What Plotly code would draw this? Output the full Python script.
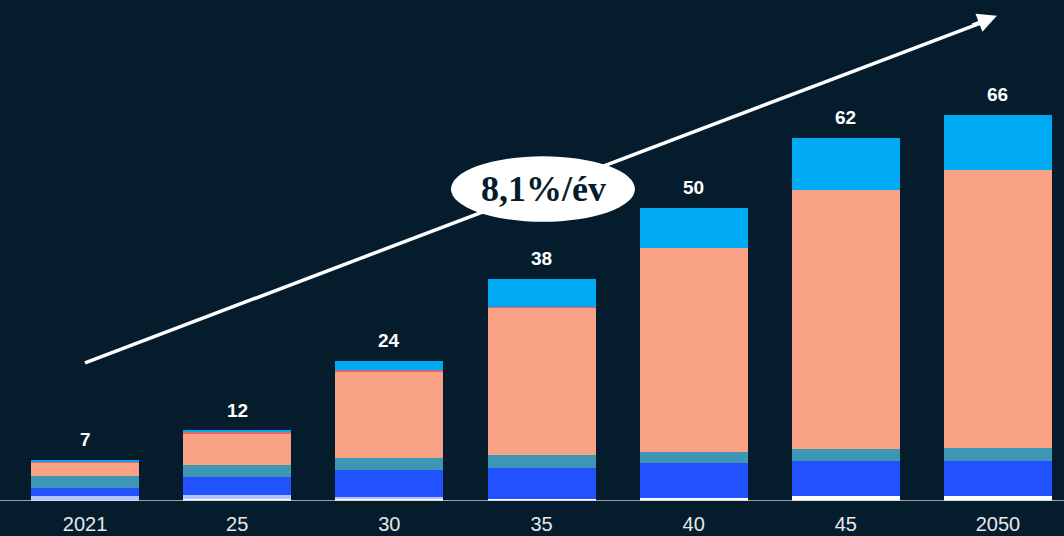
import plotly.graph_objects as go

# Categories and stacked segment values (bottom to top)
years = ["2021", "25", "30", "35", "40", "45", "2050"]
totals = [7, 12, 24, 38, 50, 62, 66]

white_seg = [0.2, 0.3, 0.35, 0.35, 0.5, 0.8, 0.9]
lavender_seg = [0.6, 0.7, 0.35, 0.05, 0.0, 0.0, 0.0]
blue_seg = [1.5, 3.1, 4.6, 5.3, 6.0, 6.0, 6.0]
teal_seg = [1.9, 2.1, 2.05, 2.1, 1.95, 2.15, 2.2]
salmon_seg = [2.3, 5.3, 14.8, 25.3, 34.7, 44.15, 47.5]
red_seg = [0.3, 0.3, 0.3, 0.1, 0.0, 0.0, 0.0]
cyan_seg = [0.2, 0.2, 1.55, 4.8, 6.85, 8.9, 9.4]

growth_label = "8,1%/év"

BG = "#051c2c"
series = [
    ("white", white_seg, "#ffffff"),
    ("lavender", lavender_seg, "#b3c3ff"),
    ("blue", blue_seg, "#2251ff"),
    ("teal", teal_seg, "#3c96b4"),
    ("salmon", salmon_seg, "#f8a185"),
    ("red", red_seg, "#e0656e"),
    ("cyan", cyan_seg, "#00a9f4"),
]

x_idx = list(range(len(years)))

fig = go.Figure()
for name, vals, color in series:
    fig.add_trace(go.Bar(
        x=x_idx, y=vals, name=name,
        marker=dict(color=color, line=dict(width=0)),
        showlegend=False, hoverinfo="skip",
    ))

# Growth trend line (arrowhead added as annotation)
fig.add_trace(go.Scatter(
    x=[0.0, 5.95], y=[23.6, 82.3], mode="lines",
    line=dict(color="#ffffff", width=3.5),
    showlegend=False, hoverinfo="skip",
))

annotations = []
for i, t in enumerate(totals):
    annotations.append(dict(
        x=i, y=t, text=f"<b>{t}</b>", showarrow=False,
        yanchor="bottom", yshift=8,
        font=dict(family="Liberation Sans, Arial", size=19, color="#ffffff"),
    ))

# Arrowhead at the end of the trend line
annotations.append(dict(
    x=5.993, y=82.9, ax=-26, ay=10, xref="x", yref="y",
    showarrow=True, arrowhead=2, arrowsize=1.1, arrowwidth=3.5,
    arrowcolor="#ffffff", text="",
))

# CAGR label inside the ellipse
annotations.append(dict(
    x=3.01, y=53.3, text=f"<b>{growth_label}</b>", showarrow=False,
    font=dict(family="Liberation Serif, Times New Roman, serif", size=36, color=BG),
))

shapes = [
    dict(type="circle", xref="x", yref="y", x0=2.405, x1=3.614, y0=47.7, y1=58.9,
         fillcolor="#ffffff", line=dict(color="#ffffff", width=0), layer="above"),
    dict(type="line", xref="paper", yref="y", x0=0, x1=1, y0=0, y1=0,
         line=dict(color="#c9cdd2", width=1.5), layer="above"),
]

fig.update_layout(
    width=1064, height=536,
    paper_bgcolor=BG, plot_bgcolor=BG,
    barmode="stack", bargap=0.29,
    margin=dict(l=0, r=0, t=0, b=35),
    xaxis=dict(
        range=[-0.559, 6.434], tickmode="array", tickvals=x_idx, ticktext=years,
        showgrid=False, zeroline=False, showline=False, ticks="",
        tickfont=dict(family="Liberation Sans, Arial", size=20, color="#e6e8ea"),
        ticklabelstandoff=9,
    ),
    yaxis=dict(range=[0, 85.6], visible=False, showgrid=False, zeroline=False),
    annotations=annotations,
    shapes=shapes,
)

fig.write_html("out.html")
